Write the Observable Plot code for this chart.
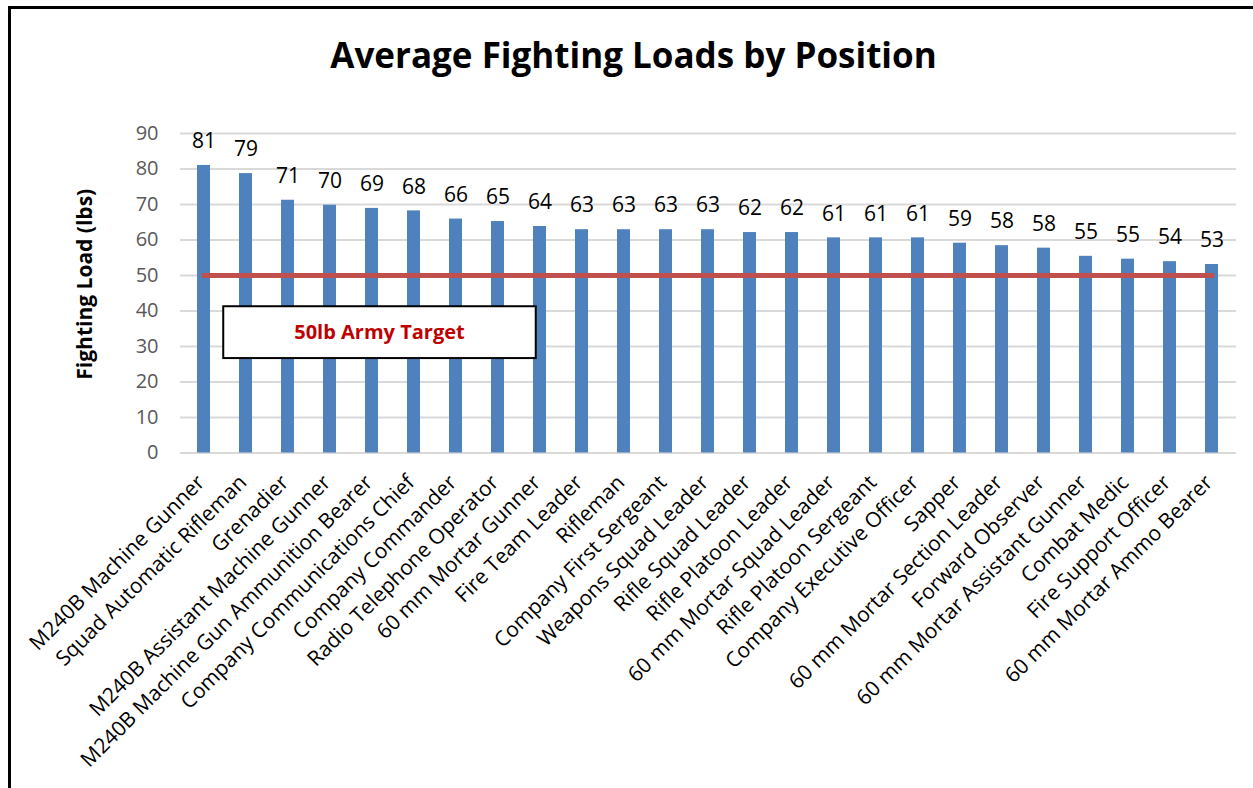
<!DOCTYPE html>
<html>
<head>
<meta charset="utf-8">
<script src="https://cdn.jsdelivr.net/npm/d3@7"></script>
<script src="https://cdn.jsdelivr.net/npm/@observablehq/plot@0.6"></script>
<style>
  html, body { margin: 0; padding: 0; background: #fff; overflow: hidden; width: 1253px; height: 788px; }
  #frame { position: absolute; left: 8px; top: 6px; width: 1400px; height: 1000px;
           border-left: 3px solid #000; border-top: 3px solid #000; }
  #title { position: absolute; left: 7px; top: 33px; width: 1253px; text-align: center;
           font-family: "Open Sans", sans-serif; font-weight: 700; font-size: 35px; line-height: 44px; color: #000; }
  #chart { position: absolute; left: 0; top: 80px; }
</style>
</head>
<body>
<div id="frame"></div>
<div id="title">Average Fighting Loads by Position</div>
<div id="chart"></div>
<script>
const categories = [
  "M240B Machine Gunner",
  "Squad Automatic Rifleman",
  "Grenadier",
  "M240B Assistant Machine Gunner",
  "M240B Machine Gun Ammunition Bearer",
  "Company Communications Chief",
  "Company Commander",
  "Radio Telephone Operator",
  "60 mm Mortar Gunner",
  "Fire Team Leader",
  "Rifleman",
  "Company First Sergeant",
  "Weapons Squad Leader",
  "Rifle Squad Leader",
  "Rifle Platoon Leader",
  "60 mm Mortar Squad Leader",
  "Rifle Platoon Sergeant",
  "Company Executive Officer",
  "Sapper",
  "60 mm Mortar Section Leader",
  "Forward Observer",
  "60 mm Mortar Assistant Gunner",
  "Combat Medic",
  "Fire Support Officer",
  "60 mm Mortar Ammo Bearer"
];
const loads = [81.0, 78.7, 71.2, 69.8, 68.9, 68.2, 65.9, 65.2, 63.8, 62.9, 62.9, 62.9, 62.9,
               62.1, 62.1, 60.6, 60.6, 60.6, 59.1, 58.4, 57.7, 55.4, 54.6, 53.9, 53.1];
const yTicks = [0, 10, 20, 30, 40, 50, 60, 70, 80, 90];
const targetLoad = 50;
const noteLabel = "50lb Army Target";
const noteTop = 41.2;     // lbs
const noteBottom = 26.6;  // lbs
const yTitle = "Fighting Load (lbs)";

const data = categories.map((c, i) => ({position: c, load: loads[i]}));
const targetLine = [
  {position: categories[0], load: targetLoad},
  {position: categories[categories.length - 1], load: targetLoad}
];

function noteBox(index, scales, values, dimensions) {
  const x = scales.x, y = scales.y;
  const bw = typeof x.bandwidth === "function" ? x.bandwidth() : 0;
  const step = typeof x.step === "function" ? x.step() : 0;
  const x1 = x(categories[0]) + bw / 2 + step * 0.47;
  const x2 = x(categories[8]) + bw / 2 - step * 0.09;
  const y1 = y(noteTop), y2 = y(noteBottom);
  const g = d3.create("svg:g");
  g.append("rect").attr("x", x1).attr("y", y1).attr("width", x2 - x1).attr("height", y2 - y1)
    .attr("fill", "#fff").attr("stroke", "#000").attr("stroke-width", 2);
  g.append("text").attr("x", (x1 + x2) / 2).attr("y", (y1 + y2) / 2).attr("dy", "0.35em")
    .attr("text-anchor", "middle").attr("fill", "#C00000").attr("font-weight", 700)
    .attr("font-size", 20).attr("font-family", "Open Sans, sans-serif").text(noteLabel);
  return g.node();
}

const chart = Plot.plot({
  width: 1253,
  height: 708,
  marginTop: 53,
  marginBottom: 335.5,
  marginLeft: 180,
  marginRight: 17,
  style: {fontFamily: "Open Sans, sans-serif", background: "transparent", overflow: "visible"},
  x: {domain: categories, paddingInner: 0.69, paddingOuter: 0.345, axis: null},
  y: {domain: [0, 90], axis: null},
  marks: [
    Plot.gridY(yTicks, {stroke: "#D9D9D9", strokeOpacity: 1, strokeWidth: 2}),
    Plot.barY(data, {x: "position", y: "load", fill: "#4F81BD"}),
    Plot.line(targetLine, {x: "position", y: "load", stroke: "#C0504D", strokeWidth: 5, strokeLinecap: "round"}),
    noteBox,
    Plot.text(data, {x: "position", y: "load", text: d => d3.format(".0f")(d.load), dy: -24, fontSize: 21, fill: "#000"}),
    Plot.axisY(yTicks, {tickSize: 0, tickPadding: 22, fontSize: 20, color: "#595959", label: null}),
    Plot.axisX({tickRotate: -45, tickSize: 0, tickPadding: 26, dx: -3, fontSize: 21, color: "#000", label: null}),
    Plot.text([yTitle], {frameAnchor: "left", textAnchor: "middle", text: d => d, rotate: -90, dx: -95, dy: -9, fontSize: 21, fontWeight: 700, fill: "#000"})
  ]
});
document.getElementById("chart").appendChild(chart);
</script>
</body>
</html>
